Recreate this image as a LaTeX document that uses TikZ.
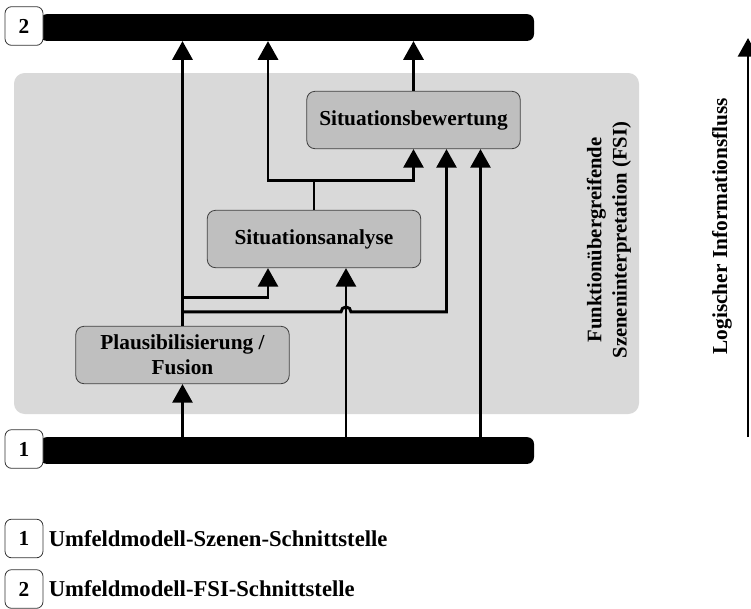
\documentclass[tikz,border=0pt]{standalone}
\usepackage{fontspec}
\setmainfont{Liberation Serif}
\usetikzlibrary{arrows.meta,positioning,calc}
\tikzset{
  stage/.style={draw=black!75,fill=black!25,rounded corners=6pt,line width=0.6pt,
    minimum width=160pt,minimum height=43pt,align=center},
  bus/.style={fill=black,rounded corners=5pt,inner sep=0pt,minimum width=370.5pt,minimum height=20pt},
  tag/.style={draw=black!80,fill=white,rounded corners=5pt,line width=0.6pt,
    minimum width=28.5pt,minimum height=29pt},
  wire/.style={line width=2.2pt,line join=miter},
  flow/.style={wire,-{Triangle[length=14pt,width=15pt]}}
}
\begin{document}
\begin{tikzpicture}[x=0.75pt,y=-0.75pt,font=\fontsize{16}{18.5}\selectfont\bfseries]
\useasboundingbox (0,0) rectangle (751,608);
\fill [black!15,rounded corners=8pt] (14,73) rectangle (639,414);
\node [bus] (bus2) at (287,27.5) {};
\node [bus] (bus1) at (287,450.5) {};
\node [tag] (tag2) at (24,26) {2};
\node [tag] (tag1) at (24,449) {1};
\node [stage] (bewert) at (413.5,120) {Situationsbewertung};
\node [stage] (analyse) at (314,239) {Situationsanalyse};
\node [stage] (plaus) at (182.5,355) {Plausibilisierung /\\Fusion};
\coordinate (a1) at ($(analyse.south)+(-46,0)$);
\coordinate (a2) at ($(analyse.south)+(32,0)$);
\coordinate (b2) at ($(bewert.south)+(33,0)$);
\coordinate (b3) at ($(bewert.south)+(67,0)$);
\coordinate (j1) at ($(plaus.north)+(0,-28)$);
\coordinate (j2) at ($(plaus.north)+(0,-14)$);
\coordinate (s1) at ($(analyse.north)+(0,-29)$);
\draw [flow] (bus1.north -| plaus) -- (plaus);
\draw [flow] (bus1.north -| a2) -- (a2);
\draw [flow] (bus1.north -| b3) -- (b3);
\draw [flow] (plaus.north) -- (plaus.north |- bus2.south);
\draw [flow] (j1) -| (a1);
\draw [flow] (j2) -- ($(j2 -| a2)+(-5,0)$) arc [start angle=180,end angle=0,radius=3.75pt] -| (b2);
\draw [wire] (analyse.north) -- (s1);
\draw [flow] (s1) -| (bewert.south);
\draw [flow] (s1) -| (a1 |- bus2.south);
\draw [flow] (bewert.north) -- (bewert.north |- bus2.south);
\node [rotate=90,align=center,font=\fontsize{15.5}{19}\selectfont\bfseries] (fsi) at (609,240) {Funktionübergreifende\\Szeneninterpretation (FSI)};
\coordinate (lbot) at (748,437);
\coordinate (ltop) at (748,38);
\draw [flow] (lbot) -- (ltop);
\node [rotate=90] (logic) at (722,226) {Logischer Informationsfluss};
\node [tag] (key1) at (24,538.5) {1};
\node [right=0.5pt of key1,font=\fontsize{17}{20}\selectfont\bfseries] (text1) {Umfeldmodell-Szenen-Schnittstelle};
\node [tag] (key2) at (24,589) {2};
\node [right=0.5pt of key2,font=\fontsize{17}{20}\selectfont\bfseries] (text2) {Umfeldmodell-FSI-Schnittstelle};
\end{tikzpicture}
\end{document}
